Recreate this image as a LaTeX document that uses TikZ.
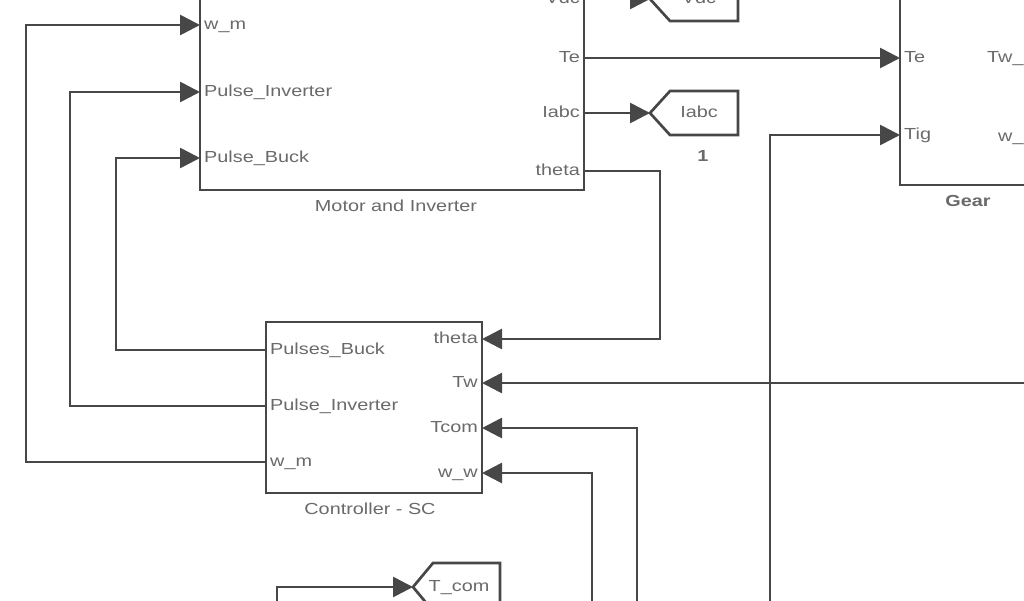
\documentclass[tikz,border=0pt]{standalone}
\usepackage{fontspec}
\setmainfont[FakeStretch=1.24]{Liberation Sans}
\usetikzlibrary{arrows.meta}
\definecolor{wirecol}{HTML}{474747}
\definecolor{txtcol}{HTML}{6A6A6A}
\newcommand\lblfont{\fontsize{16}{19}\selectfont}
\begin{document}
\begin{tikzpicture}[x=1pt,y=-1pt,
  wire/.style={draw=wirecol,line width=2.7pt},
  arr/.style={wire,-{Triangle[length=20pt,width=20pt]}},
  blk/.style={draw=wirecol,line width=2.7pt,fill=white,inner sep=0pt},
  lab/.style={text=txtcol,font=\lblfont,inner sep=4pt,text height=11.5pt,text depth=3.5pt},
  inl/.style={lab,anchor=west},
  outl/.style={lab,anchor=east},
  gotoshape/.style={draw=wirecol,line width=2.7pt,fill=white}]
\useasboundingbox (0,0) rectangle (1024,600);
\clip (0,0) rectangle (1024,600);
\fill[white] (0,0) rectangle (1024,600);

% blocks
\node[blk,minimum width=384pt,minimum height=240pt] (motor) at (392,70) {};
\node[blk,minimum width=216pt,minimum height=171pt] (ctrl) at (374,407.5) {};
\node[blk,minimum width=160pt,minimum height=240pt] (gear) at (980,65) {};

% block names
\node[lab] (motorname) at (396,207) {Motor and Inverter};
\node[lab] (ctrlname) at (370,510) {Controller - SC};
\node[lab,font=\lblfont\bfseries] (gearname) at (968,202) {Gear};

% motor ports
\node[inl] (m-wm) at (200,25) {w\_m};
\node[inl] (m-pi) at (200,92) {Pulse\_Inverter};
\node[inl] (m-pb) at (200,158) {Pulse\_Buck};
\node[outl] (m-vdc) at (584,-1) {Vdc};
\node[outl] (m-te) at (584,58) {Te};
\node[outl] (m-iabc) at (584,113) {Iabc};
\node[outl] (m-theta) at (584,171) {theta};

% controller ports
\node[inl] (c-pb) at (266,350) {Pulses\_Buck};
\node[inl] (c-pi) at (266,406) {Pulse\_Inverter};
\node[inl] (c-wm) at (266,462) {w\_m};
\node[outl] (c-theta) at (482,339) {theta};
\node[outl] (c-tw) at (482,383) {Tw};
\node[outl] (c-tcom) at (482,428) {Tcom};
\node[outl] (c-ww) at (482,473) {w\_w};

% gear ports
\node[inl] (g-te) at (900,58) {Te};
\node[inl] (g-tig) at (900,135) {Tig};
\node[inl] (g-tw) at (983,58) {Tw\_};
\node[inl] (g-w) at (994,137) {w\_};

% goto tags
\draw[gotoshape] (650,-1) -- (670,-23) -- (738,-23) -- (738,21) -- (670,21) -- cycle;
\coordinate (g-vdc) at (650,-1);
\node[lab] (g-vdc-t) at (699,-1) {Vdc};
\draw[gotoshape] (650,113) -- (670,91) -- (738,91) -- (738,135) -- (670,135) -- cycle;
\coordinate (g-iabc) at (650,113);
\node[lab] (g-iabc-t) at (699,113) {Iabc};
\node[lab,font=\lblfont\bfseries] (g-iabc-n) at (703,157) {1};
\draw[gotoshape] (413,587) -- (433,563) -- (500,563) -- (500,611) -- (433,611) -- cycle;
\coordinate (g-tcom) at (413,587);
\node[lab] (g-tcom-t) at (459,587) {T\_com};

% free ends
\coordinate (twsrc) at (1040,383);
\coordinate (tcomsrc) at (637,620);
\coordinate (wwsrc) at (592,620);
\coordinate (tigsrc) at (770,620);
\coordinate (tcsrc) at (277,620);

% wires
\draw[arr] (m-vdc.east) -- (g-vdc);
\draw[arr] (m-te.east) -- (g-te.west);
\draw[arr] (m-iabc.east) -- (g-iabc);
\draw[arr] (m-theta.east) -- (660,171) |- (c-theta.east);
\draw[arr] (c-pb.west) -- (116,350) |- (m-pb.west);
\draw[arr] (c-pi.west) -- (70,406) |- (m-pi.west);
\draw[arr] (c-wm.west) -- (26,462) |- (m-wm.west);
\draw[arr] (twsrc) -- (c-tw.east);
\draw[arr] (tcomsrc) |- (c-tcom.east);
\draw[arr] (wwsrc) |- (c-ww.east);
\draw[arr] (tigsrc) |- (g-tig.west);
\draw[arr] (tcsrc) |- (g-tcom);
\end{tikzpicture}
\end{document}
